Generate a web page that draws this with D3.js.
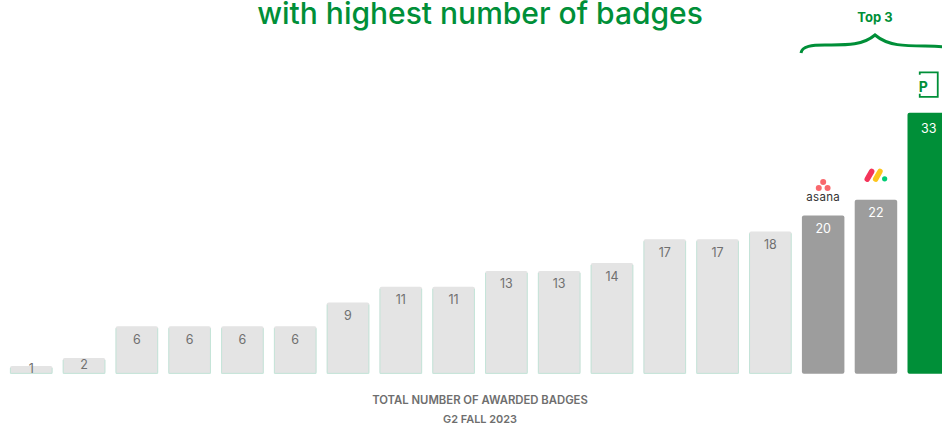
<!DOCTYPE html>
<html>
<head>
<meta charset="utf-8">
<script src="https://cdn.jsdelivr.net/npm/d3@7"></script>
<style>
  html, body { margin: 0; padding: 0; background: #fff; overflow: hidden; }
  text { font-family: Inter, "Open Sans", sans-serif; }
</style>
</head>
<body>
<div id="plot"></div>
<script>
// Badge counts per vendor, lowest to highest
const badges = [1, 2, 6, 6, 6, 6, 9, 11, 11, 13, 13, 14, 17, 17, 18, 20, 22, 33];
const tiers = ["rest", "rest", "rest", "rest", "rest", "rest", "rest", "rest", "rest",
  "rest", "rest", "rest", "rest", "rest", "rest", "top", "top", "first"];
const titleText = "with highest number of badges";
const topLabel = "Top 3";
const footerLines = ["TOTAL NUMBER OF AWARDED BADGES", "G2 FALL 2023"];

const width = 942, height = 426;
const green = "#008f38";

const svg = d3.select("#plot")
  .append("svg")
  .attr("width", width)
  .attr("height", height)
  .style("display", "block");

// Create scales
const xScale = d3.scaleBand().domain(d3.range(badges.length)).range([10, 950]).paddingInner(0.195).paddingOuter(0);
const yScale = d3.scaleLinear().domain([0, 33]).range([373.8, 112.8]);
const fillScale = d3.scaleOrdinal().domain(["rest", "top", "first"]).range(["#e4e4e4", "#9d9d9d", green]);
const textScale = d3.scaleOrdinal().domain(["rest", "top", "first"]).range(["#707070", "#fff", "#fff"]);

const bw = xScale.bandwidth();

// Title
svg.append("text")
  .attr("x", 480)
  .attr("y", 24)
  .attr("text-anchor", "middle")
  .attr("fill", green)
  .attr("font-size", 30)
  .attr("font-weight", 500)
  .text(titleText);

// Bars
const bars = svg.selectAll("g.bar")
  .data(badges)
  .enter()
  .append("g")
  .attr("class", "bar")
  .attr("transform", (d, i) => `translate(${xScale(i)},${yScale(d)})`);

bars.append("rect")
  .attr("width", bw)
  .attr("height", d => yScale(0) - yScale(d))
  .attr("rx", 2)
  .attr("fill", (d, i) => fillScale(tiers[i]));

// Thin green edge on the pale bars, sides and bottom only
bars.filter((d, i) => tiers[i] === "rest")
  .append("path")
  .attr("d", d => {
    const h = yScale(0) - yScale(d);
    return `M0.4,2V${h - 0.4}H${bw - 0.4}V2`;
  })
  .attr("fill", "none")
  .attr("stroke", "#bfe3d6")
  .attr("stroke-width", 0.9);

// Value labels
bars.append("text")
  .attr("x", bw / 2)
  .attr("y", d => {
    const h = yScale(0) - yScale(d);
    if (h < 20) return h / 2 + 3;
    return d === 33 ? 20.5 : 17.5;
  })
  .attr("text-anchor", "middle")
  .attr("fill", (d, i) => textScale(tiers[i]))
  .attr("font-size", 12.5)
  .text(d => d);

// Footer
svg.selectAll("text.footer")
  .data(footerLines)
  .enter()
  .append("text")
  .attr("class", "footer")
  .attr("x", 480)
  .attr("y", (d, i) => 403.5 + i * 19.5)
  .attr("text-anchor", "middle")
  .attr("fill", "#6e6e6e")
  .attr("font-size", (d, i) => i === 0 ? 11.3 : 10.9)
  .attr("font-weight", 600)
  .text(d => d);

// Top 3 bracket
svg.append("text")
  .attr("x", 875)
  .attr("y", 21.5)
  .attr("text-anchor", "middle")
  .attr("fill", green)
  .attr("font-size", 13)
  .attr("font-weight", 700)
  .text(topLabel);

svg.append("path")
  .attr("d", "M801,53C802,46 812,45 825,45C845,45 862,46 875,35C888,46 905,46 925,46C932,46 938,46 944,47")
  .attr("fill", "none")
  .attr("stroke", green)
  .attr("stroke-width", 3);

// Vendor logos sit above their bars
const asanaX = xScale(15) + bw / 2, asanaY = yScale(20);
const asana = svg.append("g").attr("transform", `translate(${asanaX},${asanaY})`);
asana.selectAll("circle")
  .data([[0, -33.7], [-4.4, -27.7], [4.4, -27.7]])
  .enter()
  .append("circle")
  .attr("cx", d => d[0])
  .attr("cy", d => d[1])
  .attr("r", 3)
  .attr("fill", "#f9686d");
asana.append("text")
  .attr("y", -15)
  .attr("text-anchor", "middle")
  .attr("fill", "#333")
  .attr("font-size", 11.5)
  .attr("letter-spacing", 0.3)
  .text("asana");

const mondayX = xScale(16) + bw / 2, mondayY = yScale(22);
const monday = svg.append("g").attr("transform", `translate(${mondayX},${mondayY})`);
monday.selectAll("line")
  .data([[-8.7, -20.7, -4.3, -28.3, "#f4345a"], [-0.3, -20.7, 4, -28.3, "#fdc51c"]])
  .enter()
  .append("line")
  .attr("x1", d => d[0])
  .attr("y1", d => d[1])
  .attr("x2", d => d[2])
  .attr("y2", d => d[3])
  .attr("stroke", d => d[4])
  .attr("stroke-width", 5.5)
  .attr("stroke-linecap", "round");
monday.append("circle")
  .attr("cx", 8.7)
  .attr("cy", -21)
  .attr("r", 2.6)
  .attr("fill", "#00cc75");

const pX = xScale(17) + bw / 2, pY = yScale(33);
const pLogo = svg.append("g").attr("transform", `translate(${pX},${pY})`);
pLogo.append("path")
  .attr("d", "M-9,-38V-40.5H9V-16H-9V-19")
  .attr("fill", "none")
  .attr("stroke", green)
  .attr("stroke-width", 1.8);
pLogo.append("text")
  .attr("x", -10)
  .attr("y", -21)
  .attr("fill", green)
  .attr("font-size", 14)
  .attr("font-weight", 700)
  .text("P");
</script>
</body>
</html>
